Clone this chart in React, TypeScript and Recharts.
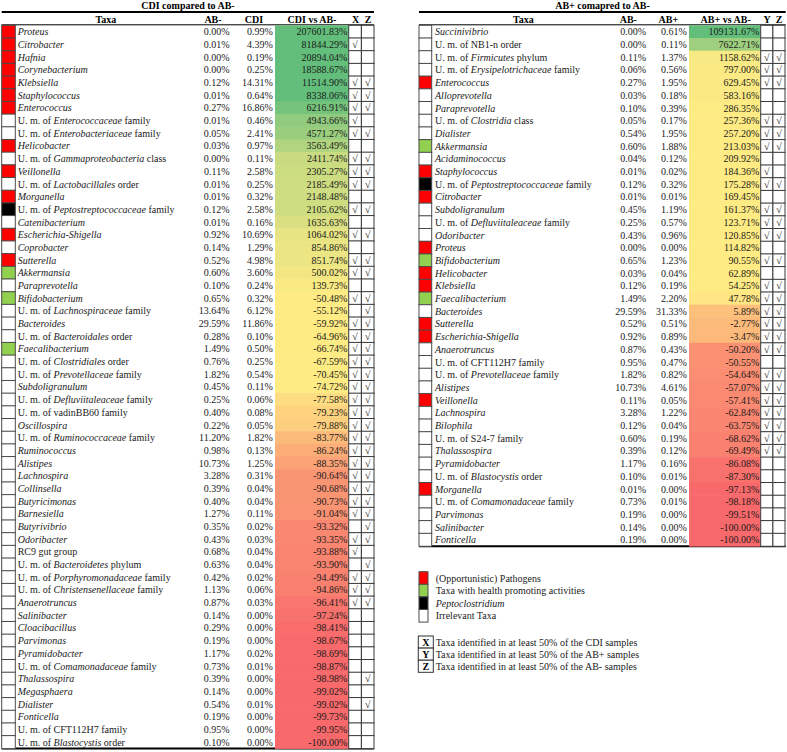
import React from "react";
import { BarChart, Bar, XAxis, YAxis } from "recharts";

// ---- CDI compared to AB- ----
const leftTaxa = [
  "*Proteus*", "*Citrobacter*", "*Hafnia*", "*Corynebacterium*", "*Klebsiella*",
  "*Staphylococcus*", "*Enterococcus*", "U. m. of *Enterococcaceae* family",
  "U. m. of *Enterobacteriaceae* family", "*Helicobacter*",
  "U. m. of *Gammaproteobacteria* class", "*Veillonella*", "U. m. of *Lactobacillales* order",
  "*Morganella*", "U. m. of *Peptostreptococcaceae* family", "*Catenibacterium*",
  "*Escherichia-Shigella*", "*Coprobacter*", "*Sutterella*", "*Akkermansia*",
  "*Paraprevotella*", "*Bifidobacterium*", "U. m. of *Lachnospiraceae* family", "*Bacteroides*",
  "U. m. of *Bacteroidales* order", "*Faecalibacterium*", "U. m. of *Clostridiales* order",
  "U. m. of *Prevotellaceae* family", "*Subdoligranulum*", "U. m. of *Defluviitaleaceae* family",
  "U. m. of vadinBB60 family", "*Oscillospira*", "U. m. of *Ruminococcaceae* family",
  "*Ruminococcus*", "*Alistipes*", "*Lachnospira*", "*Collinsella*", "*Butyricimonas*",
  "*Barnesiella*", "*Butyrivibrio*", "*Odoribacter*", "RC9 gut group",
  "U. m. of *Bacteroidetes* phylum", "U. m. of *Porphyromonadaceae* family",
  "U. m. of *Christensenellaceae* family", "*Anaerotruncus*", "*Salinibacter*",
  "*Cloacibacillus*", "*Parvimonas*", "*Pyramidobacter*", "U. m. of *Comamonadaceae* family",
  "*Thalassospira*", "*Megasphaera*", "*Dialister*", "*Fonticella*",
  "U. m. of CFT112H7 family", "U. m. of *Blastocystis* order",
];
const leftAbNeg = [
  0.0, 0.01, 0.0, 0.0, 0.12, 0.01, 0.27, 0.01, 0.05, 0.03,
  0.0, 0.11, 0.01, 0.01, 0.12, 0.01, 0.92, 0.14, 0.52, 0.6,
  0.1, 0.65, 13.64, 29.59, 0.28, 1.49, 0.76, 1.82, 0.45, 0.25,
  0.4, 0.22, 11.2, 0.98, 10.73, 3.28, 0.39, 0.4, 1.27, 0.35,
  0.43, 0.68, 0.63, 0.42, 1.13, 0.87, 0.14, 0.29, 0.19, 1.17,
  0.73, 0.39, 0.14, 0.54, 0.19, 0.95, 0.1,
];
const leftCdi = [
  0.99, 4.39, 0.19, 0.25, 14.31, 0.64, 16.86, 0.46, 2.41, 0.97,
  0.11, 2.58, 0.25, 0.32, 2.58, 0.16, 10.69, 1.29, 4.98, 3.6,
  0.24, 0.32, 6.12, 11.86, 0.1, 0.5, 0.25, 0.54, 0.11, 0.06,
  0.08, 0.05, 1.82, 0.13, 1.25, 0.31, 0.04, 0.04, 0.11, 0.02,
  0.03, 0.04, 0.04, 0.02, 0.06, 0.03, 0.0, 0.0, 0.0, 0.02,
  0.01, 0.0, 0.0, 0.01, 0.0, 0.0, 0.0,
];
const leftVs = [
  207601.83, 81844.29, 20894.04, 18588.67, 11514.9, 8338.06, 6216.91, 4943.66, 4571.27, 3563.49,
  2411.74, 2305.27, 2185.49, 2148.48, 2105.62, 1635.63, 1064.02, 854.86, 851.74, 500.02,
  139.73, -50.48, -55.12, -59.92, -64.96, -66.74, -67.59, -70.45, -74.72, -77.58,
  -79.23, -79.88, -83.77, -86.24, -88.35, -90.64, -90.68, -90.73, -91.04, -93.32,
  -93.35, -93.88, -93.9, -94.49, -94.86, -96.41, -97.24, -98.41, -98.67, -98.69,
  -98.87, -98.98, -99.02, -99.02, -99.73, -99.95, -100.0,
];
// P = pathogen, H = health promoting, C = Peptoclostridium, N = irrelevant
const leftGroup = [
  "P", "P", "P", "P", "P", "P", "P", "N", "N", "P",
  "N", "P", "N", "P", "C", "N", "P", "N", "P", "H",
  "N", "H", "N", "N", "N", "H", "N", "N", "N", "N",
  "N", "N", "N", "N", "N", "N", "N", "N", "N", "N",
  "N", "N", "N", "N", "N", "N", "N", "N", "N", "N",
  "N", "N", "N", "N", "N", "N", "N",
];
const leftX = [
  0, 1, 0, 0, 1, 1, 1, 1, 1, 0,
  1, 1, 1, 0, 1, 0, 1, 0, 1, 1,
  0, 1, 0, 1, 1, 1, 1, 1, 1, 1,
  1, 1, 1, 1, 1, 1, 1, 1, 1, 0,
  1, 1, 0, 1, 1, 1, 0, 0, 0, 0,
  0, 0, 0, 0, 0, 0, 0,
];
const leftZ = [
  0, 0, 0, 0, 1, 1, 1, 0, 1, 0,
  1, 1, 1, 0, 1, 0, 1, 0, 1, 1,
  0, 1, 1, 1, 1, 1, 1, 1, 1, 1,
  1, 1, 1, 1, 1, 1, 1, 1, 1, 1,
  1, 0, 1, 1, 1, 1, 0, 0, 0, 0,
  0, 1, 0, 1, 0, 0, 0,
];

// ---- AB+ compared to AB- ----
const rightTaxa = [
  "*Succinivibrio*", "U. m. of NB1-n order", "U. m. of *Firmicutes* phylum",
  "U. m. of *Erysipelotrichaceae* family", "*Enterococcus*", "*Alloprevotella*",
  "*Paraprevotella*", "U. m. of *Clostridia* class", "*Dialister*", "*Akkermansia*",
  "*Acidaminococcus*", "*Staphylococcus*", "U. m. of *Peptostreptococcaceae* family",
  "*Citrobacter*", "*Subdoligranulum*", "U. m. of *Defluviitaleaceae* family", "*Odoribacter*",
  "*Proteus*", "*Bifidobacterium*", "*Helicobacter*", "*Klebsiella*", "*Faecalibacterium*",
  "*Bacteroides*", "*Sutterella*", "*Escherichia-Shigella*", "*Anaerotruncus*",
  "U. m. of CFT112H7 family", "U. m. of *Prevotellaceae* family", "*Alistipes*",
  "*Veillonella*", "*Lachnospira*", "*Bilophila*", "U. m. of S24-7 family", "*Thalassospira*",
  "*Pyramidobacter*", "U. m. of *Blastocystis* order", "*Morganella*",
  "U. m. of *Comamonadaceae* family", "*Parvimonas*", "*Salinibacter*", "*Fonticella*",
];
const rightAbNeg = [
  0.0, 0.0, 0.11, 0.06, 0.27, 0.03, 0.1, 0.05, 0.54, 0.6,
  0.04, 0.01, 0.12, 0.01, 0.45, 0.25, 0.43, 0.0, 0.65, 0.03,
  0.12, 1.49, 29.59, 0.52, 0.92, 0.87, 0.95, 1.82, 10.73, 0.11,
  3.28, 0.12, 0.6, 0.39, 1.17, 0.1, 0.01, 0.73, 0.19, 0.14, 0.19,
];
const rightAbPos = [
  0.61, 0.11, 1.37, 0.56, 1.95, 0.18, 0.39, 0.17, 1.95, 1.88,
  0.12, 0.02, 0.32, 0.01, 1.19, 0.57, 0.96, 0.0, 1.23, 0.04,
  0.19, 2.2, 31.33, 0.51, 0.89, 0.43, 0.47, 0.82, 4.61, 0.05,
  1.22, 0.04, 0.19, 0.12, 0.16, 0.01, 0.0, 0.01, 0.0, 0.0, 0.0,
];
const rightVs = [
  109131.67, 7622.71, 1158.62, 797.0, 629.45, 583.16, 286.35, 257.36, 257.2, 213.03,
  209.92, 184.36, 175.28, 169.45, 161.37, 123.71, 120.85, 114.82, 90.55, 62.89,
  54.25, 47.78, 5.89, -2.77, -3.47, -50.2, -50.55, -54.64, -57.07, -57.41,
  -62.84, -63.75, -68.62, -69.49, -86.08, -87.3, -97.13, -98.18, -99.51, -100.0, -100.0,
];
const rightGroup = [
  "N", "N", "N", "N", "P", "N", "N", "N", "N", "H",
  "N", "P", "C", "P", "N", "N", "N", "P", "H", "P",
  "P", "H", "N", "P", "P", "N", "N", "N", "N", "P",
  "N", "N", "N", "N", "N", "N", "P", "N", "N", "N", "N",
];
const rightY = [
  0, 0, 1, 1, 1, 0, 0, 1, 1, 1,
  0, 1, 1, 0, 1, 1, 1, 0, 1, 0,
  1, 1, 1, 1, 1, 1, 0, 1, 1, 1,
  1, 1, 1, 1, 0, 0, 0, 0, 0, 0, 0,
];
const rightZ = [
  0, 0, 1, 1, 1, 0, 0, 1, 1, 1,
  0, 0, 1, 0, 1, 1, 1, 0, 1, 0,
  1, 1, 1, 1, 1, 1, 0, 1, 1, 1,
  1, 1, 1, 1, 0, 0, 0, 0, 0, 0, 0,
];

// ---- legend ----
const legendGroups = ["P", "H", "C", "N"];
const legendLabels = [
  "(Opportunistic) Pathogens",
  "Taxa with health promoting activities",
  "*Peptoclostridium*",
  "Irrelevant Taxa",
];
const markLetters = ["X", "Y", "Z"];
const markLabels = [
  "Taxa identified in at least 50% of the CDI samples",
  "Taxa identified in at least 50% of the AB+ samples",
  "Taxa identified in at least 50% of the AB- samples",
];

const FONT = "Liberation Serif";
const INK = "#1a1a1a";
const GROUP_FILL: Record<string, string> = { P: "#ff0000", H: "#92d050", C: "#000000", N: "#ffffff" };

const GREEN = [99, 190, 123];
const YELLOW = [255, 235, 132];
const RED = [248, 105, 107];

const mix = (a: number[], b: number[], t: number) => a.map((v, i) => v + (b[i] - v) * t);
const rgb = (c: number[]) => `rgb(${c.map((v) => Math.round(v)).join(",")})`;

// same as Excel PERCENTILE.INC
function percentile(vals: number[], p: number) {
  const s = [...vals].sort((a, b) => a - b);
  const pos = (s.length - 1) * p;
  const lo = Math.floor(pos);
  const hi = Math.min(lo + 1, s.length - 1);
  return s[lo] + (pos - lo) * (s[hi] - s[lo]);
}

function scaleColor(v: number, stops: [number, number[]][]) {
  if (v <= stops[0][0]) return rgb(stops[0][1]);
  for (let i = 1; i < stops.length; i++) {
    if (v <= stops[i][0]) {
      const [v0, c0] = stops[i - 1];
      const [v1, c1] = stops[i];
      return rgb(mix(c0, c1, (v - v0) / (v1 - v0)));
    }
  }
  return rgb(stops[stops.length - 1][1]);
}

const leftStops: [number, number[]][] = [
  [percentile(leftVs, 0.1), RED],
  [percentile(leftVs, 0.5), YELLOW],
  [percentile(leftVs, 0.9), GREEN],
];
const rightStops: [number, number[]][] = [
  [percentile(rightVs, 0.1), RED],
  [percentile(rightVs, 0.5), YELLOW],
  [1200, mix(YELLOW, GREEN, 0.05)],
  [7600, mix(YELLOW, GREEN, 0.62)],
  [Math.max(...rightVs), GREEN],
];

const pct = (v: number) => `${v.toFixed(2)}%`;

const txtStyle: React.CSSProperties = { fontFamily: FONT, fontSize: 10 };

// "*...*" marks the italic part of a label; plain parts stay as bare text nodes
function taxonSpans(label: string) {
  return label.split("*").map((part, i) =>
    i % 2 === 1 ? (
      <tspan key={i} style={{ fontStyle: "italic" }}>{part}</tspan>
    ) : (
      <React.Fragment key={i}>{part}</React.Fragment>
    )
  );
}

type Layout = {
  width: number;
  left: number;
  title: string;
  titleX: number;
  lineX: [number, number];
  swatch: [number, number];
  taxaX: number;
  col1: number;
  col2: number;
  cell: [number, number];
  marks: [number, number, number];
  headers: { text: string; x: number }[];
  bottom: number;
};

const TOP = 25.3;
const CHART_H = 752;

const leftLayout: Layout = {
  width: 380,
  left: 0,
  title: "CDI compared to AB-",
  titleX: 188,
  lineX: [1.7, 374],
  swatch: [1.7, 15.3],
  taxaX: 17.7,
  col1: 229.5,
  col2: 272.8,
  cell: [275, 348.7],
  marks: [348.7, 361.4, 374],
  headers: [
    { text: "Taxa", x: 106 },
    { text: "AB-", x: 213 },
    { text: "CDI", x: 254 },
    { text: "CDI vs AB-", x: 312 },
    { text: "X", x: 355.5 },
    { text: "Z", x: 368 },
  ],
  bottom: 748.3,
};

const rightLayout: Layout = {
  width: 372,
  left: 415,
  title: "AB+ comapred to AB-",
  titleX: 187.5,
  lineX: [4, 370.7],
  swatch: [4, 16.7],
  taxaX: 20,
  col1: 231,
  col2: 271.8,
  cell: [274, 345.7],
  marks: [345.7, 357.9, 370],
  headers: [
    { text: "Taxa", x: 108.3 },
    { text: "AB-", x: 213.3 },
    { text: "AB+", x: 253.3 },
    { text: "AB+ vs AB-", x: 310.7 },
    { text: "Y", x: 352 },
    { text: "Z", x: 364 },
  ],
  bottom: 546,
};

function makeRowShape(L: Layout) {
  return (props: any) => {
    const { x, y, width, height } = props;
    const d = props.payload ?? props;
    const ty = y + height / 2 + 3.5;
    const [m0, m1, m2] = L.marks;
    return (
      <g>
        <rect x={x} y={y} width={width} height={height + 0.3} fill={d.fill} />
        <rect
          x={L.swatch[0]}
          y={y}
          width={L.swatch[1] - L.swatch[0]}
          height={height}
          fill={GROUP_FILL[d.group]}
          stroke="#4a4a4a"
          strokeWidth={1}
        />
        <text x={L.taxaX} y={ty} style={{ ...txtStyle, whiteSpace: "pre" }} fill={INK}>{taxonSpans(d.taxon)}</text>
        <text x={L.col1} y={ty} textAnchor="end" style={txtStyle} fill={INK}>{pct(d.a)}</text>
        <text x={L.col2} y={ty} textAnchor="end" style={txtStyle} fill={INK}>{pct(d.b)}</text>
        <text x={x + width - 1.3} y={ty} textAnchor="end" style={txtStyle} fill={INK}>{pct(d.vs)}</text>
        <rect x={m0} y={y} width={m1 - m0} height={height} fill="#fff" stroke="#3a3a3a" strokeWidth={1} />
        <rect x={m1} y={y} width={m2 - m1} height={height} fill="#fff" stroke="#3a3a3a" strokeWidth={1} />
        {d.m1 ? <text x={(m0 + m1) / 2} y={ty} textAnchor="middle" style={txtStyle} fill={INK}>√</text> : null}
        {d.m2 ? <text x={(m1 + m2) / 2} y={ty} textAnchor="middle" style={txtStyle} fill={INK}>√</text> : null}
      </g>
    );
  };
}

function TableChart({
  L,
  rows,
  children,
}: {
  L: Layout;
  rows: any[];
  children?: React.ReactNode;
}) {
  return (
    <div style={{ position: "absolute", left: L.left, top: 0 }}>
      <BarChart
        layout="vertical"
        width={L.width}
        height={CHART_H}
        data={rows}
        barCategoryGap={0}
        margin={{ top: TOP, bottom: CHART_H - L.bottom, left: L.cell[0], right: L.width - L.cell[1] }}
      >
        <XAxis type="number" domain={[0, 1]} hide />
        <YAxis type="category" dataKey="taxon" hide />
        <Bar dataKey="span" isAnimationActive={false} shape={makeRowShape(L)} />
        <text x={L.titleX} y={9} textAnchor="middle" style={{ ...txtStyle, fontWeight: "bold" }} fill="#000">
          {L.title}
        </text>
        <line x1={L.lineX[0]} x2={L.lineX[1]} y1={12} y2={12} stroke="#000" strokeWidth={2} />
        {L.headers.map((h) => (
          <text key={h.text + h.x} x={h.x} y={22.5} textAnchor="middle" style={{ ...txtStyle, fontWeight: "bold" }} fill="#000">
            {h.text}
          </text>
        ))}
        <line x1={L.lineX[0]} x2={L.lineX[1]} y1={24.8} y2={24.8} stroke="#000" strokeWidth={1} />
        <line x1={L.lineX[0]} x2={L.lineX[1]} y1={L.bottom + 0.3} y2={L.bottom + 0.3} stroke="#000" strokeWidth={2} />
        {children}
      </BarChart>
    </div>
  );
}

const leftRows = leftTaxa.map((taxon, i) => ({
  taxon,
  a: leftAbNeg[i],
  b: leftCdi[i],
  vs: leftVs[i],
  group: leftGroup[i],
  m1: leftX[i],
  m2: leftZ[i],
  span: 1,
  fill: scaleColor(leftVs[i], leftStops),
}));

const rightRows = rightTaxa.map((taxon, i) => ({
  taxon,
  a: rightAbNeg[i],
  b: rightAbPos[i],
  vs: rightVs[i],
  group: rightGroup[i],
  m1: rightY[i],
  m2: rightZ[i],
  span: 1,
  fill: scaleColor(rightVs[i], rightStops),
}));

function LegendBlock() {
  return (
    <g>
      {legendGroups.map((g, i) => (
        <g key={g}>
          <rect x={4} y={571.7 + i * 12.6} width={9} height={12.6} fill={GROUP_FILL[g]} stroke="#4a4a4a" strokeWidth={1} />
          <text x={20.7} y={571.7 + i * 12.6 + 9.8} style={txtStyle} fill={INK}>
            {taxonSpans(legendLabels[i])}
          </text>
        </g>
      ))}
      {markLetters.map((m, i) => (
        <g key={m}>
          <rect x={3.3} y={636 + i * 12.1} width={15} height={12.1} fill="#fff" stroke="#333" strokeWidth={1} />
          <text x={10.8} y={636 + i * 12.1 + 9.5} textAnchor="middle" style={{ ...txtStyle, fontWeight: "bold" }} fill="#000">{m}</text>
          <text x={20.7} y={636 + i * 12.1 + 9.5} style={txtStyle} fill={INK}>{markLabels[i]}</text>
        </g>
      ))}
    </g>
  );
}

export default function App() {
  return (
    <div style={{ position: "absolute", left: 0, top: 0, width: 787, height: 752, background: "#fff", overflow: "hidden", fontFamily: FONT }}>
      <TableChart L={leftLayout} rows={leftRows} />
      <TableChart L={rightLayout} rows={rightRows}>
        <LegendBlock />
      </TableChart>
    </div>
  );
}
